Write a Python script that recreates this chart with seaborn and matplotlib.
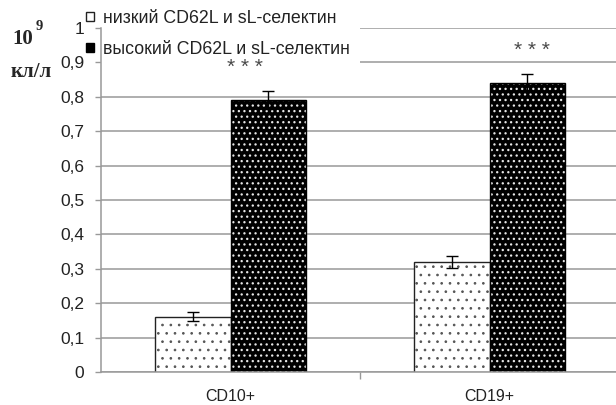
import matplotlib
matplotlib.use("Agg")
import matplotlib.pyplot as plt
from matplotlib.patches import Patch, Rectangle
from matplotlib.colors import to_rgba
import pandas as pd
import seaborn as sns

# Cell populations on the x axis
categories = ["CD10+", "CD19+"]
# Groups by CD62L / sL-selectin level
groups = ["низкий CD62L и sL-селектин", "высокий CD62L и sL-селектин"]
# Mean counts, 10^9 cells/l
low_values = [0.16, 0.32]
high_values = [0.79, 0.84]
# Error of the mean
low_err = [0.013, 0.017]
high_err = [0.026, 0.025]
# Significance marks above the high group and their heights
sig_labels = ["* * *", "* * *"]
sig_heights = [0.885, 0.935]
y_ticks = [0, 0.1, 0.2, 0.3, 0.4, 0.5, 0.6, 0.7, 0.8, 0.9, 1]

sns.set_theme(style="white")
plt.rcParams["font.family"] = ["Liberation Sans", "DejaVu Sans"]
plt.rcParams["hatch.linewidth"] = 0.7

df = pd.DataFrame({
    "cells": categories * 2,
    "group": [groups[0]] * 2 + [groups[1]] * 2,
    "value": low_values + high_values,
})

fig = plt.figure(figsize=(6.16, 4.05), dpi=100)
ax = fig.add_axes([101 / 616, 1 - 372 / 405, 518 / 616, 344 / 405])

sns.barplot(data=df, x="cells", y="value", hue="group", hue_order=groups,
            palette=["white", "black"], width=0.58, gap=0, errorbar=None,
            legend=False, ax=ax, zorder=2)

grey = "#999999"
ax.set_axisbelow(True)
ax.yaxis.grid(True, color=grey, linewidth=1.1, zorder=0.5)
ax.xaxis.grid(False)


def set_hatch_style(patch, colour, width):
    rgba = to_rgba(colour)
    if hasattr(patch, "set_hatchcolor"):
        patch.set_hatchcolor(rgba)
    else:
        patch._hatch_color = rgba
    if hasattr(patch, "set_hatch_linewidth"):
        patch.set_hatch_linewidth(width)
    else:
        patch._hatch_linewidth = width
    patch.stale = True


# Fill styles: dotted white bars and black bars with light dots
low_bars, high_bars = ax.containers[0], ax.containers[1]
for p in low_bars:
    p.set_facecolor("white")
    p.set_edgecolor("#222222")
    p.set_linewidth(1.0)
    p.set_hatch("..")
    set_hatch_style(p, "#555555", 0.7)
for p in high_bars:
    p.set_facecolor("black")
    p.set_edgecolor("black")
    p.set_linewidth(1.0)
    p.set_hatch("...")
    set_hatch_style(p, "#e6e6e6", 0.9)

# Error bars at the centre of each bar
for bars, vals, errs in ((low_bars, low_values, low_err),
                         (high_bars, high_values, high_err)):
    xs = [p.get_x() + p.get_width() / 2 for p in bars]
    ax.errorbar(xs, vals, yerr=errs, fmt="none", ecolor="black",
                elinewidth=1.0, capsize=4, capthick=1.0, zorder=3)

# Significance marks
sig_shift = [-0.09, 0.02]
for p, lab, h, dx in zip(high_bars, sig_labels, sig_heights, sig_shift):
    xc = p.get_x() + p.get_width() / 2
    ax.text(xc + dx, h, lab, ha="center", va="center", fontsize=15,
            color="#4a4a4a", zorder=4)

ax.set_ylim(0, 1)
ax.set_xlim(-0.5, 1.5)
ax.set_yticks(y_ticks)
ax.set_yticklabels([f"{t:g}".replace(".", ",") for t in y_ticks])
ax.set_xlabel("")
ax.set_ylabel("")

for side in ("top", "right"):
    ax.spines[side].set_visible(False)
for side in ("left", "bottom"):
    ax.spines[side].set_color(grey)
    ax.spines[side].set_linewidth(1.1)

ax.tick_params(axis="y", which="major", left=True, length=4, width=1,
               color=grey, pad=8, labelsize=12.5, labelcolor="#222222")
ax.tick_params(axis="x", which="major", bottom=False, pad=6.5,
               labelsize=11.5, labelcolor="#222222")
ax.set_xticks([0.5], minor=True)
ax.tick_params(axis="x", which="minor", bottom=True, length=5, width=1,
               color=grey)

# White backing behind the legend area
ax.add_patch(Rectangle((0, 0.885), 0.5, 0.13, transform=ax.transAxes,
                       facecolor="white", edgecolor="none", zorder=0.8,
                       clip_on=False))

handles = [
    Patch(facecolor="white", edgecolor="#222222", linewidth=1.0),
    Patch(facecolor="black", edgecolor="black", linewidth=1.0),
]
leg = fig.legend(handles, groups, loc="upper left",
                 bbox_to_anchor=(72 / 616, 1 + 4 / 405), frameon=False,
                 fontsize=12.8, handlelength=0.42, handleheight=0.42,
                 handletextpad=0.5, labelspacing=0.75, borderpad=0.3)
for t in leg.get_texts():
    t.set_color("#222222")

# Unit label
fig.text(12 / 616, 1 - 39 / 405, "10", fontsize=15, fontweight="bold",
         family=["Liberation Serif", "DejaVu Serif"], va="center", ha="left")
fig.text(36 / 616, 1 - 26 / 405, "9", fontsize=10.5, fontweight="bold",
         family=["Liberation Serif", "DejaVu Serif"], va="center", ha="left")
fig.text(11 / 616, 1 - 72 / 405, "кл/л", fontsize=15, fontweight="bold",
         family=["Liberation Serif", "DejaVu Serif"], va="center", ha="left")

fig.savefig("out.png", dpi=100)
